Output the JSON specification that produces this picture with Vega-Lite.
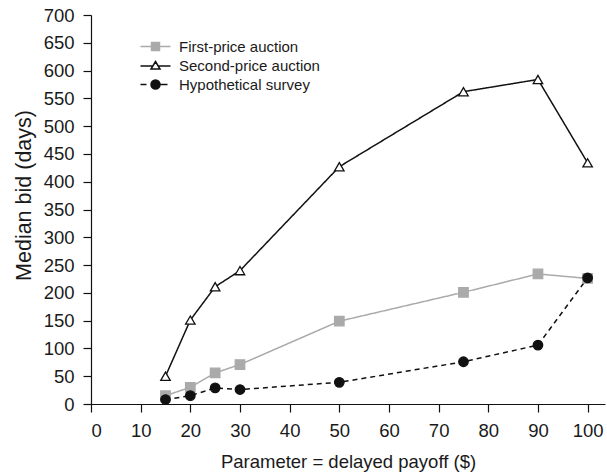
{
  "$schema": "https://vega.github.io/schema/vega-lite/v6.json",
  "width": 514,
  "height": 389,
  "autosize": {"type": "none"},
  "padding": {"left": 91, "top": 15, "right": 2, "bottom": 71},
  "background": "white",
  "config": {
    "view": {"stroke": null},
    "font": "Liberation Sans",
    "axis": {
      "grid": false,
      "domainColor": "#111111",
      "tickColor": "#111111",
      "domainWidth": 1.2,
      "tickWidth": 1.2,
      "tickSize": 8,
      "labelColor": "#1a1a1a",
      "titleColor": "#1a1a1a",
      "labelFont": "Liberation Sans",
      "titleFont": "Liberation Sans",
      "titleFontWeight": "normal",
      "labelFontSize": 18.5
    },
    "legend": {
      "orient": "none",
      "legendX": 47,
      "legendY": 24,
      "title": null,
      "padding": 0,
      "symbolSize": 100,
      "labelFontSize": 15,
      "labelFont": "Liberation Sans",
      "labelColor": "#1a1a1a",
      "labelOffset": 26,
      "rowPadding": 3,
      "symbolStrokeWidth": 1.5,
      "symbolOpacity": 1
    }
  },
  "data": {
    "values": [
      {"x": 15, "y": 15, "series": "First-price auction"},
      {"x": 20, "y": 30, "series": "First-price auction"},
      {"x": 25, "y": 56, "series": "First-price auction"},
      {"x": 30, "y": 71, "series": "First-price auction"},
      {"x": 50, "y": 149, "series": "First-price auction"},
      {"x": 75, "y": 201, "series": "First-price auction"},
      {"x": 90, "y": 234, "series": "First-price auction"},
      {"x": 100, "y": 226, "series": "First-price auction"},
      {"x": 15, "y": 50, "series": "Second-price auction"},
      {"x": 20, "y": 151, "series": "Second-price auction"},
      {"x": 25, "y": 211, "series": "Second-price auction"},
      {"x": 30, "y": 240, "series": "Second-price auction"},
      {"x": 50, "y": 427, "series": "Second-price auction"},
      {"x": 75, "y": 562, "series": "Second-price auction"},
      {"x": 90, "y": 584, "series": "Second-price auction"},
      {"x": 100, "y": 434, "series": "Second-price auction"},
      {"x": 15, "y": 8, "series": "Hypothetical survey"},
      {"x": 20, "y": 15, "series": "Hypothetical survey"},
      {"x": 25, "y": 29, "series": "Hypothetical survey"},
      {"x": 30, "y": 26, "series": "Hypothetical survey"},
      {"x": 50, "y": 39, "series": "Hypothetical survey"},
      {"x": 75, "y": 76, "series": "Hypothetical survey"},
      {"x": 90, "y": 106, "series": "Hypothetical survey"},
      {"x": 100, "y": 227, "series": "Hypothetical survey"}
    ]
  },
  "encoding": {
    "x": {
      "field": "x", "type": "quantitative",
      "scale": {"domain": [0, 103.5], "nice": false, "zero": false},
      "axis": {"values": [0,10,20,30,40,50,60,70,80,90,100], "title": "Parameter = delayed payoff ($)", "titleFontSize": 18.5, "titleBaseline": "alphabetic", "titleY": 63, "labelPadding": 9}
    },
    "y": {
      "field": "y", "type": "quantitative",
      "scale": {"domain": [0, 700], "nice": false},
      "axis": {"values": [0,50,100,150,200,250,300,350,400,450,500,550,600,650,700], "title": "Median bid (days)", "titleFontSize": 21.5, "titleBaseline": "alphabetic", "titleX": -61, "titleY": 180, "labelPadding": 9}
    }
  },
  "resolve": {"scale": {"shape": "independent", "fill": "independent", "stroke": "independent"}},
  "layer": [
    {
      "mark": {"type": "line", "strokeWidth": 1.5},
      "encoding": {
        "color": {
          "field": "series", "type": "nominal",
          "scale": {"domain": ["Hypothetical survey", "First-price auction", "Second-price auction"], "range": ["#111111", "#aaaaaa", "#111111"]},
          "legend": null
        },
        "strokeDash": {
          "field": "series", "type": "nominal",
          "scale": {"domain": ["Hypothetical survey", "First-price auction", "Second-price auction"], "range": [[5, 4], [1, 0], [1, 0]]},
          "legend": null
        }
      }
    },
    {
      "mark": {"type": "point", "filled": true, "size": 90, "strokeWidth": 1.3, "opacity": 1},
      "encoding": {
        "shape": {
          "field": "series", "type": "nominal",
          "scale": {"domain": ["Second-price auction", "Hypothetical survey", "First-price auction"], "range": ["triangle-up", "circle", "square"]},
          "legend": null
        },
        "fill": {
          "field": "series", "type": "nominal",
          "scale": {"domain": ["Second-price auction", "Hypothetical survey", "First-price auction"], "range": ["#ffffff", "#111111", "#aaaaaa"]},
          "legend": null
        },
        "stroke": {
          "field": "series", "type": "nominal",
          "scale": {"domain": ["Second-price auction", "Hypothetical survey", "First-price auction"], "range": ["#111111", "#111111", "#aaaaaa"]},
          "legend": null
        }
      }
    },
    {
      "transform": [{"filter": "false"}],
      "mark": {"type": "point", "filled": true, "size": 100, "strokeWidth": 1.5},
      "encoding": {
        "shape": {
          "field": "series", "type": "nominal",
          "scale": {"domain": ["First-price auction", "Second-price auction", "Hypothetical survey"], "range": ["M-1,0H5M1.2,-0.8H2.8V0.8H1.2Z", "M-1,0.1H1.45M2.55,0.1H5M2,-0.8L2.9,0.7L1.1,0.7Z", "M-1,0H0.2M2,0H4.4M2.9,0C2.9,0.497,2.497,0.9,2,0.9C1.503,0.9,1.1,0.497,1.1,0C1.1,-0.497,1.503,-0.9,2,-0.9C2.497,-0.9,2.9,-0.497,2.9,0Z"]}
        },
        "fill": {
          "field": "series", "type": "nominal",
          "scale": {"domain": ["First-price auction", "Second-price auction", "Hypothetical survey"], "range": ["#aaaaaa", "#ffffff", "#111111"]}
        },
        "stroke": {
          "field": "series", "type": "nominal",
          "scale": {"domain": ["First-price auction", "Second-price auction", "Hypothetical survey"], "range": ["#aaaaaa", "#111111", "#111111"]}
        }
      }
    }
  ]
}
